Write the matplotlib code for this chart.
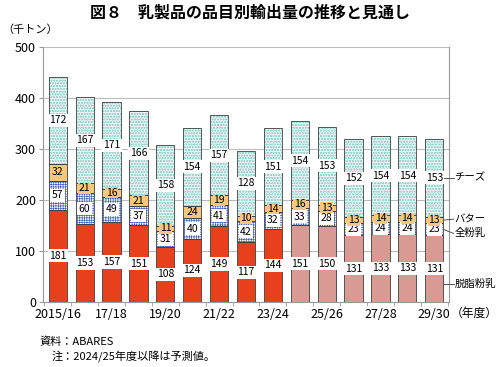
import numpy as np
import matplotlib
matplotlib.use("Agg")
from matplotlib import pyplot as plt

plt.rcParams['font.family'] = ['Noto Sans CJK JP', 'DejaVu Sans']
plt.rcParams['hatch.linewidth'] = 0.5

years = ['2015/16', '16/17', '17/18', '18/19', '19/20', '20/21', '21/22', '22/23',
         '23/24', '24/25', '25/26', '26/27', '27/28', '28/29', '29/30']
skim = [181, 153, 157, 151, 108, 124, 149, 117, 144, 151, 150, 131, 133, 133, 131]
whole = [57, 60, 49, 37, 31, 40, 41, 42, 32, 33, 28, 23, 24, 24, 23]
butter = [32, 21, 16, 21, 11, 24, 19, 10, 14, 16, 13, 13, 14, 14, 13]
cheese = [172, 167, 171, 166, 158, 154, 157, 128, 151, 154, 153, 152, 154, 154, 153]
n_actual = 9

x = np.arange(len(years))
W = 0.68
EDGE = '#404040'

fig = plt.figure(figsize=(5, 3.67), dpi=100)
ax = fig.add_axes([0.086, 0.177, 0.812, 0.695])

skim_col = ['#E8401C' if i < n_actual else '#D99A93' for i in range(len(x))]
b0 = np.zeros(len(x))
b1 = b0 + skim
b2 = b1 + whole
b3 = b2 + butter

ax.bar(x, skim, W, bottom=b0, color=skim_col, edgecolor=EDGE, linewidth=0.6, zorder=2)
# whole milk: blue crosshatch
ax.bar(x, whole, W, bottom=b1, color='white', edgecolor='#4A64B8', hatch='+++++++', linewidth=0, zorder=2)
ax.bar(x, whole, W, bottom=b1, fill=False, edgecolor=EDGE, linewidth=0.6, zorder=3)
ax.bar(x, butter, W, bottom=b2, color='#F6C77C', edgecolor=EDGE, linewidth=0.6, zorder=2)
# cheese: dotted light cyan
ax.bar(x, cheese, W, bottom=b3, color='#E8F7F5', edgecolor='#9ED3CE', hatch='oooooo', linewidth=0, zorder=2)
ax.bar(x, cheese, W, bottom=b3, fill=False, edgecolor=EDGE, linewidth=0.6, zorder=3)

box = dict(boxstyle='square,pad=0.15', fc='white', ec='none')
for i in x:
    ax.text(i, skim[i] / 2, str(skim[i]), ha='center', va='center', fontsize=7.5, bbox=box, zorder=5)
    ax.text(i, b1[i] + whole[i] / 2, str(whole[i]), ha='center', va='center', fontsize=7.5, bbox=box, zorder=5)
    ax.text(i, b2[i] + butter[i] / 2, str(butter[i]), ha='center', va='center', fontsize=7.5,
            bbox=dict(boxstyle='square,pad=0.05', fc='#F6C77C', ec='none'), zorder=5)
    ax.text(i, b3[i] + cheese[i] / 2, str(cheese[i]), ha='center', va='center', fontsize=7.5, bbox=box, zorder=5)

ax.set_ylim(0, 500)
ax.set_xlim(-0.55, len(x) - 0.45)
ax.set_yticks(np.arange(0, 501, 100))
ax.tick_params(axis='y', labelsize=9, length=3, color='#999999', pad=2)
ax.grid(axis='y', color='#BBBBBB', linewidth=0.8, zorder=0)
ax.set_axisbelow(True)
ax.set_xticks(x[::2])
ax.set_xticklabels(years[::2], fontsize=9)
ax.set_xticks(np.arange(-0.5, len(x), 1), minor=True)
ax.tick_params(axis='x', which='major', length=0, pad=4)
ax.tick_params(axis='x', which='minor', length=3, color='#999999')
for s in ['left', 'right', 'bottom']:
    ax.spines[s].set_color('#999999')
ax.spines['top'].set_visible(False)

# series labels on the right
last = len(x) - 1
xr = last + W / 2
lab_pos = [('チーズ', b3[last] + cheese[last] / 2, b3[last] + cheese[last] / 2),
           ('バター', b2[last] + butter[last] / 2, b2[last] + butter[last] / 2 + 2),
           ('全粉乳', b1[last] + whole[last] / 2, b1[last] + whole[last] / 2 - 8),
           ('脱脂粉乳', 35, 35)]
for name, yb, yt in lab_pos:
    ax.plot([xr, last + 0.72], [yb, yt], color='#555555', lw=0.7, clip_on=False, zorder=4)
    ax.text(last + 0.75, yt, name, ha='left', va='center', fontsize=7.5, clip_on=False)

fig.text(0.5, 0.965, '図８　乳製品の品目別輸出量の推移と見通し', ha='center', va='center',
         fontsize=11.5, fontweight='bold')
fig.text(0.005, 0.92, '（千トン）', ha='left', va='center', fontsize=8)
fig.text(0.996, 0.147, '（年度）', ha='right', va='center', fontsize=8.5)
fig.text(0.08, 0.068, '資料：ABARES', ha='left', va='center', fontsize=8)
fig.text(0.103, 0.03, '注：2024/25年度以降は予測値。', ha='left', va='center', fontsize=8)

fig.savefig('out.png', dpi=100)
